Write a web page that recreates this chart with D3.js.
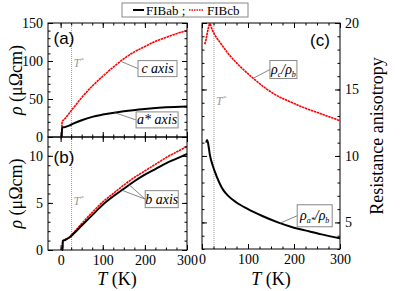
<!DOCTYPE html>
<html>
<head>
<meta charset="utf-8">
<script src="https://cdn.jsdelivr.net/npm/d3@7"></script>
<style>
  body { margin: 0; background: #fff; }
  svg text { font-family: "Liberation Serif", "Times New Roman", serif; }
</style>
</head>
<body>
<svg id="chart" width="415" height="291" font-family="Liberation Serif, serif"></svg>
<script>
// temperatures (K) and resistivities
const aRedT   = [2.5, 3.5, 10, 20, 30, 50, 75, 100, 125, 150, 175, 200, 225, 250, 275, 300];
const aRed    = [0, 20, 24, 31, 38, 52, 67, 80, 92, 103, 112, 119, 126, 131, 136, 140];
const aBlackT = [2.5, 3.5, 10, 20, 30, 50, 75, 100, 150, 200, 250, 300];
const aBlack  = [0, 12.5, 13, 15, 17.5, 22, 26.5, 29.5, 34, 37, 39, 40];

const bRedT   = [3, 4.5, 5, 10, 20, 30, 50, 75, 100, 125, 150, 175, 200, 225, 250, 275, 300];
const bRed    = [0, 0, 1.0, 1.1, 1.35, 1.8, 2.8, 4.0, 5.1, 6.0, 6.9, 7.7, 8.4, 9.1, 9.8, 10.4, 11.0];
const bBlackT = [3, 4.5, 5, 10, 20, 30, 50, 75, 100, 125, 150, 175, 200, 225, 250, 275, 300];
const bBlack  = [0, 0, 0.95, 1.05, 1.3, 1.7, 2.6, 3.7, 4.8, 5.7, 6.5, 7.3, 8.0, 8.6, 9.2, 9.7, 10.2];

const cRedT   = [6, 9, 13, 17, 22, 28, 40, 57, 75, 93, 111, 140, 165, 200, 224, 260, 300];
const cRed    = [18.4, 18.8, 19.5, 19.95, 19.5, 19.1, 18.5, 17.7, 17.0, 16.4, 15.85, 15.05, 14.5, 13.95, 13.6, 13.15, 12.65];
const cBlackT = [9, 11, 13, 17, 24, 32, 46, 57, 75, 100, 130, 165, 200, 224, 260, 300];
const cBlack  = [11.0, 11.2, 11.0, 10.1, 9.2, 8.45, 7.45, 7.0, 6.5, 6.0, 5.5, 5.0, 4.6, 4.4, 4.1, 3.8];

const tStar = 26;
const tMajor = [0, 100, 200, 300];
const tMinor = [0, 25, 50, 75, 100, 125, 150, 175, 200, 225, 250, 275, 300];

const SERIF = "Liberation Serif, serif";
const svg = d3.select("#chart");

const xAB = d3.scaleLinear().domain([-30, 300]).range([48, 187]);
const yA  = d3.scaleLinear().domain([0, 150]).range([137, 23]);
const yB  = d3.scaleLinear().domain([0, 12]).range([250, 137]);
const xC  = d3.scaleLinear().domain([0, 300]).range([202, 340]);
const yC  = d3.scaleLinear().domain([3, 20]).range([249, 23]);

const zip = (xs, ys) => xs.map((t, i) => [t, ys[i]]);

// inward ticks on all four sides, labels only where asked
function axes(x, y, o) {
  const [x0, x1] = x.range(), [y0, y1] = y.range();
  const fmt = show => show ? d3.format("d") : "";
  const sides = [
    [d3.axisBottom, x, y0, o.xMajor, o.xMinor, o.xLabels, true],
    [d3.axisTop, x, y1, o.xMajor, o.xMinor, false, true],
    [d3.axisLeft, y, x0, o.yMajor, o.yMinor, o.yLabels == "left", false],
    [d3.axisRight, y, x1, o.yMajor, o.yMinor, o.yLabels == "right", false]
  ];
  sides.forEach(([ax, s, pos, major, minor, lab, horiz]) => {
    const tr = horiz ? "translate(0," + pos + ")" : "translate(" + pos + ",0)";
    svg.append("g").attr("transform", tr)
      .call(ax(s).tickValues(minor).tickSize(-2.5).tickSizeOuter(0).tickFormat(""))
      .call(g => g.select(".domain").remove());
    svg.append("g").attr("transform", tr)
      .call(ax(s).tickValues(major).tickSize(-5).tickSizeOuter(0).tickPadding(5).tickFormat(fmt(lab)))
      .call(g => g.select(".domain").remove())
      .attr("font-family", SERIF)
      .attr("font-size", 14)
      .call(g => g.selectAll("text").attr("font-family", SERIF));
  });
  svg.append("rect")
    .attr("x", x0).attr("y", Math.min(y0, y1))
    .attr("width", x1 - x0).attr("height", Math.abs(y0 - y1))
    .attr("fill", "none").attr("stroke", "#000").attr("stroke-width", 1);
}

function curve(x, y, pts, color, dashed, width) {
  const line = d3.line()
    .x(d => x(d[0]))
    .y(d => y(d[1]))
    .curve(d3.curveMonotoneX);
  svg.append("path")
    .datum(pts)
    .attr("fill", "none")
    .attr("stroke", color)
    .attr("stroke-width", width)
    .attr("stroke-dasharray", dashed ? "2.5,0.6" : null)
    .attr("stroke-linejoin", "round")
    .attr("d", line);
}

function tStarLine(x, y, labY) {
  svg.append("line")
    .attr("x1", x(tStar)).attr("x2", x(tStar))
    .attr("y1", y.range()[0]).attr("y2", y.range()[1])
    .attr("stroke", "#999").attr("stroke-width", 1)
    .attr("stroke-dasharray", "1,1");
  const t = svg.append("text")
    .attr("x", x(tStar) + 2).attr("y", labY)
    .attr("font-family", SERIF)
    .attr("fill", "#999").attr("font-size", 12).attr("font-style", "italic");
  t.append("tspan").text("T");
  t.append("tspan").attr("font-size", 7).attr("dy", -5).text("*");
}

// label box with leader lines; pos in data units
function note(x, y, cx, cy, w, h, from, build) {
  const px = x(cx), py = y(cy);
  from.forEach(([ft, fv]) => {
    svg.append("line")
      .attr("x1", x(ft)).attr("y1", y(fv))
      .attr("x2", px - w / 2).attr("y2", py)
      .attr("stroke", "#666").attr("stroke-width", 0.8);
  });
  svg.append("rect")
    .attr("x", px - w / 2).attr("y", py - h / 2)
    .attr("width", w).attr("height", h)
    .attr("fill", "#fff").attr("stroke", "#888").attr("stroke-width", 1);
  const t = svg.append("text")
    .attr("x", px).attr("y", py + 4.5)
    .attr("text-anchor", "middle")
    .attr("font-family", SERIF)
    .attr("font-size", 14).attr("font-style", "italic");
  build(t);
}

// panel (a)
tStarLine(xAB, yA, 67);
curve(xAB, yA, zip(aRedT, aRed), "#ff0000", true, 1.6);
curve(xAB, yA, zip(aBlackT, aBlack), "#000", false, 2);
axes(xAB, yA, { xMajor: tMajor, xMinor: tMinor, yMajor: [0, 50, 100, 150],
  yMinor: d3.range(0, 151, 10), xLabels: false, yLabels: "left" });
note(xAB, yA, 230, 90, 39, 16, [[145, 99]], t => t.text("c axis"));
note(xAB, yA, 229, 22.5, 42, 16, [[128, 32]], t => t.text("a* axis"));

// panel (b)
tStarLine(xAB, yB, 205);
curve(xAB, yB, zip(bRedT, bRed), "#ff0000", true, 1.6);
curve(xAB, yB, zip(bBlackT, bBlack), "#000", false, 2);
axes(xAB, yB, { xMajor: tMajor, xMinor: tMinor, yMajor: [0, 5, 10],
  yMinor: d3.range(0, 13, 1), xLabels: true, yLabels: "left" });
note(xAB, yB, 240, 5.4, 33, 17, [[158, 7.1], [148, 6.3]], t => t.text("b axis"));

// panel (c)
tStarLine(xC, yC, 105);
curve(xC, yC, zip(cRedT, cRed), "#ff0000", true, 1.6);
curve(xC, yC, zip(cBlackT, cBlack), "#000", false, 2);
axes(xC, yC, { xMajor: tMajor, xMinor: tMinor, yMajor: [5, 10, 15, 20],
  yMinor: d3.range(3, 21, 1), xLabels: true, yLabels: "right" });
note(xC, yC, 177, 16.5, 27, 18, [[112, 15.85]], t => {
  t.append("tspan").text("ρ");
  t.append("tspan").attr("font-size", 8).attr("dy", 3).text("c");
  t.append("tspan").attr("dy", -3).text("/ρ");
  t.append("tspan").attr("font-size", 8).attr("dy", 3).text("b");
});
note(xC, yC, 245, 5.5, 35, 22, [[170, 4.95]], t => {
  t.append("tspan").text("ρ");
  t.append("tspan").attr("font-size", 8).attr("dy", 3).text("a*");
  t.append("tspan").attr("dy", -3).text("/ρ");
  t.append("tspan").attr("font-size", 8).attr("dy", 3).text("b");
});

// panel letters
[["(a)", 64, 44], ["(b)", 64, 163], ["(c)", 320, 46]].forEach(([s, x, y]) => {
  svg.append("text").attr("x", x).attr("y", y).attr("text-anchor", "middle")
    .style("font-family", "Liberation Sans, Arial, sans-serif").attr("font-size", 17).text(s);
});

// axis titles
function rhoTitle(cy) {
  const t = svg.append("text")
    .attr("transform", "translate(22," + cy + ") rotate(-90)")
    .attr("font-family", SERIF)
    .attr("text-anchor", "middle").attr("font-size", 18);
  t.append("tspan").attr("font-style", "italic").text("ρ");
  t.append("tspan").text(" (μΩcm)");
}
rhoTitle(yA(75));
rhoTitle(yB(6));

[117, 271].forEach(cx => {
  const t = svg.append("text").attr("x", cx).attr("y", 285)
    .attr("font-family", SERIF)
    .attr("text-anchor", "middle").attr("font-size", 18);
  t.append("tspan").attr("font-style", "italic").text("T");
  t.append("tspan").text(" (K)");
});

svg.append("text")
  .attr("transform", "translate(383,136) rotate(-90)")
  .attr("font-family", SERIF)
  .attr("text-anchor", "middle").attr("font-size", 18)
  .text("Resistance anisotropy");

// legend
const leg = svg.append("g").attr("font-family", SERIF);
leg.append("rect").attr("x", 122).attr("y", 3).attr("width", 126).attr("height", 14)
  .attr("fill", "#fff").attr("stroke", "#888");
leg.append("line").attr("x1", 133).attr("x2", 144).attr("y1", 10).attr("y2", 10)
  .attr("stroke", "#000").attr("stroke-width", 2);
leg.append("text").attr("x", 146).attr("y", 14.5).attr("font-size", 13).text("FIBab ;");
leg.append("line").attr("x1", 189).attr("x2", 203).attr("y1", 10).attr("y2", 10)
  .attr("stroke", "#ff0000").attr("stroke-width", 1.6).attr("stroke-dasharray", "1.5,1");
leg.append("text").attr("x", 207).attr("y", 14.5).attr("font-size", 13).text("FIBcb");
</script>
</body>
</html>
